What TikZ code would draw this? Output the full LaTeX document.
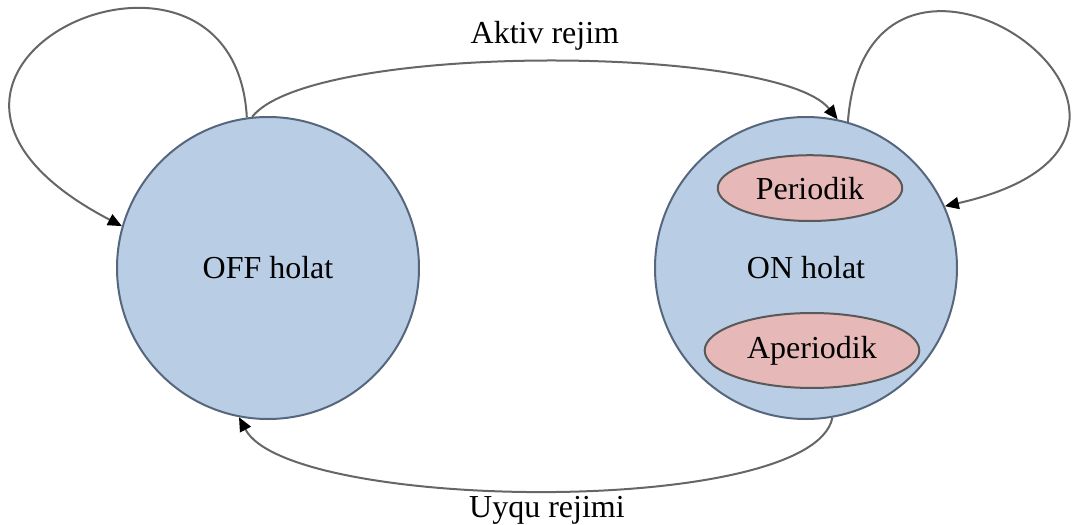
\documentclass[tikz,border=0pt]{standalone}
\usepackage{fontspec}
\setmainfont{Liberation Serif}
\usetikzlibrary{shapes.geometric, arrows.meta, positioning}

\definecolor{statefill}{HTML}{B9CDE5}
\definecolor{stateborder}{HTML}{56677D}
\definecolor{modefill}{HTML}{E6B9B8}

\begin{document}
\begin{tikzpicture}[
        x=0.5pt, y=-0.5pt,
        font=\fontsize{16}{19}\selectfont,
        state/.style={circle, draw=stateborder, line width=1pt, fill=statefill, minimum size=151pt, inner sep=0pt},
        mode/.style={ellipse, draw=black!65, line width=1pt, fill=modefill, inner xsep=5.5pt, inner ysep=6pt},
        arrow/.style={-{Triangle[length=7pt, width=6pt, color=black]}, line width=1pt, color=black!60},
        tag/.style={text=black}
    ]
    \useasboundingbox (0,0) rectangle (1073,525);

    % Nodes
    \node[state] (off) at (268,268) {OFF holat};
    \node[state] (on) [right=117pt of off] {ON holat};
    \node[mode] (periodik) [above=23pt of on.center, xshift=2pt] {Periodik};
    \node[mode] (aperiodik) [below=22pt of on.center, xshift=3pt] {Aperiodik};

    % Connections
    \draw[arrow] (off.98) .. controls +(-13,-232) and +(-297,-155) .. (off.164);
    \draw[arrow] (on.74) .. controls +(20,-262) and +(310,-70) .. (on.24);
    \draw[arrow] (off.96) .. controls +(60,-75) and +(-60,-75) .. (on.78)
        node[tag, midway, above=2pt] {Aktiv rejim};
    \draw[arrow] (on.280) .. controls +(-20,100) and +(50,95) .. (off.259)
        node[tag, midway, below=-1pt] {Uyqu rejimi};

\end{tikzpicture}
\end{document}
